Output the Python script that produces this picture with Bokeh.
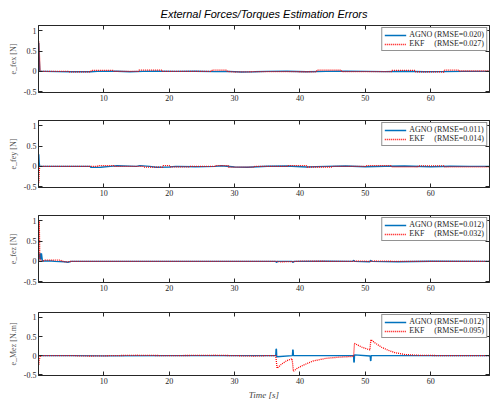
from bokeh.plotting import figure
from bokeh.layouts import column
from bokeh.models import FixedTicker, LinearAxis, Range1d, Legend, LegendItem
from bokeh.embed import file_html
from bokeh.resources import INLINE

# ---------------- data ----------------
title_text = "External Forces/Torques Estimation Errors"
x_ticks = [10, 20, 30, 40, 50, 60]
y_ticks = [-0.5, 0, 0.5, 1]
y_tick_labels = {-0.5: "-0.5", 0: "0", 0.5: "0.5", 1: "1"}

ylabels = ["e_fex [N]", "e_fey [N]", "e_fez [N]", "e_Mez [N.m]"]
rmse_agno = ["0.020", "0.011", "0.012", "0.012"]
rmse_ekf = ["0.027", "0.014", "0.032", "0.095"]

# panel 1 : force x
t1_agno = [0, 0.04, 0.12, 0.2, 1, 3, 5, 8, 9, 12, 14, 16, 18, 21, 24, 27, 29, 31, 33, 35, 38, 41, 44, 47, 50, 53, 56, 59, 62, 65, 69]
v1_agno = [0, 0.7, 0.3, 0.0, 0.0, -0.005, -0.01, -0.01, 0.0, 0.005, -0.01, 0.0, 0.005, 0.0, 0.005, -0.005, 0.0, -0.015, -0.01, 0.0, 0.005, -0.01, 0.0, 0.005, 0.0, -0.005, 0.005, -0.01, -0.005, 0.0, 0.0]
t1_ekf = [0, 0.04, 0.12, 0.25, 4.5, 4.6, 8.0, 8.1, 11.5, 11.6, 15.3, 15.4, 18.8, 18.9, 26.5, 26.6, 28.8, 28.9, 30, 34, 42.5, 42.6, 46.3, 46.4, 54, 54.1, 57.6, 57.7, 62, 62.1, 64.2, 64.3, 69]
v1_ekf = [0, 0.75, 0.5, 0.0, 0.0, -0.01, -0.01, 0.025, 0.025, 0.0, 0.0, 0.03, 0.03, 0.0, 0.0, 0.03, 0.03, 0.0, -0.015, -0.005, -0.01, 0.03, 0.03, -0.005, -0.005, 0.025, 0.025, -0.01, -0.015, 0.03, 0.03, 0.01, 0.01]

# panel 2 : force y
t2_agno = [0, 0.04, 0.1, 0.18, 2, 5, 7.9, 8.0, 9.5, 11, 12, 15, 15.5, 17, 18, 20, 21, 24, 27, 28, 30, 32, 35, 38, 41, 44, 47, 50, 53, 56, 60, 63, 66, 69]
v2_agno = [0, 0.3, 0.1, 0.0, 0.0, 0.0, 0.0, -0.025, -0.02, 0.0, 0.015, 0.0, 0.02, 0.0, -0.02, -0.015, 0.0, -0.01, 0.0, 0.015, -0.015, -0.02, 0.005, 0.01, -0.015, 0.0, 0.01, -0.01, 0.005, 0.01, -0.01, 0.005, 0.0, 0.0]
t2_ekf = [0, 0.04, 0.1, 0.18, 9.0, 9.1, 11.5, 11.6, 16, 16.1, 19, 19.1, 20, 20.1, 23, 23.1, 27, 27.1, 29, 29.1, 33, 33.1, 38, 38.1, 41, 41.1, 45, 45.1, 50, 50.1, 54, 54.1, 58, 58.1, 62, 62.1, 69]
v2_ekf = [0, -0.4, -0.15, 0.0, 0.0, 0.02, 0.02, 0.0, 0.0, -0.02, -0.02, 0.02, 0.02, -0.01, -0.01, 0.0, 0.0, 0.02, 0.02, -0.02, -0.02, 0.0, 0.0, 0.02, 0.02, -0.015, -0.015, 0.0, 0.0, 0.02, 0.02, -0.01, -0.01, 0.015, 0.015, -0.01, -0.01]

# panel 3 : force z
t3_agno = [0, 0.1, 0.25, 0.35, 0.45, 0.6, 2.0, 2.5, 4, 4.5, 5, 10, 20, 30, 36.3, 36.4, 36.6, 38.8, 38.9, 39.1, 44, 48.1, 48.2, 48.4, 50.7, 50.8, 51.0, 55, 60, 69]
v3_agno = [0, 0.1, 0.2, 0.05, 0.2, 0.01, 0.01, 0.0, -0.01, -0.02, 0.0, 0.0, 0.0, 0.0, 0.0, -0.025, 0.0, 0.0, -0.025, 0.0, 0.005, 0.0, 0.025, 0.0, -0.01, 0.025, 0.0, -0.01, 0.005, 0.0]
t3_ekf = [0, 0.04, 0.12, 0.2, 0.4, 1.0, 3.4, 3.5, 4.2, 5, 20, 36.5, 37, 39, 40, 48.3, 48.8, 50.8, 51.3, 55, 69]
v3_ekf = [0, 1.0, 1.0, 0.05, 0.0, 0.03, 0.03, 0.01, -0.015, 0.0, 0.0, 0.0, -0.01, -0.005, 0.005, 0.0, 0.01, 0.0, 0.01, 0.0, 0.0]

# panel 4 : moment z
t4_agno = [0, 5, 10, 20, 30, 36.3, 36.35, 36.4, 36.45, 38.85, 38.9, 38.95, 39.0, 45, 48.2, 48.25, 48.3, 48.35, 50.75, 50.8, 50.85, 50.9, 55, 69]
v4_agno = [0, 0.0, -0.005, 0.0, 0.0, 0.0, 0.17, 0.17, -0.03, 0.0, 0.15, 0.15, 0.0, 0.0, 0.0, -0.17, -0.17, 0.02, -0.01, -0.13, -0.13, 0.0, 0.0, 0.0]
t4_ekf = [0, 0.04, 0.12, 0.3, 5, 8, 15, 20, 27, 30, 33, 35, 36.3, 36.5, 37.2, 38.0, 38.8, 39.0, 39.5, 40.5, 42, 44, 46, 48.2, 48.35, 48.8, 49.5, 50.7, 50.85, 51.5, 52.5, 53.5, 54.5, 56, 58, 62, 69]
v4_ekf = [0, -0.25, -0.1, 0.0, 0.0, -0.01, 0.01, 0.0, 0.01, 0.0, -0.01, 0.0, 0.0, -0.33, -0.22, -0.13, -0.08, -0.41, -0.34, -0.25, -0.14, -0.07, -0.04, -0.02, 0.32, 0.28, 0.22, 0.15, 0.42, 0.33, 0.22, 0.14, 0.08, 0.03, 0.01, 0.0, 0.0]

series = [
    (t1_agno, v1_agno, t1_ekf, v1_ekf),
    (t2_agno, v2_agno, t2_ekf, v2_ekf),
    (t3_agno, v3_agno, t3_ekf, v3_ekf),
    (t4_agno, v4_agno, t4_ekf, v4_ekf),
]

# ---------------- styling ----------------
BLUE = "#0072BD"
RED = "#FF0000"
SERIF = "Liberation Serif"
DARK = "#262626"
FRAME_H = 67
borders = [(25, 14), (14, 14), (14, 14), (16, 23)]
NB = "\u00a0"

figs = []
for i, (ta, va, te, ve) in enumerate(series):
    top, bottom = borders[i]
    p = figure(width=490, height=top + FRAME_H + bottom,
               output_backend="svg", toolbar_location=None,
               x_range=Range1d(0, 69), y_range=Range1d(-0.52, 1.13),
               min_border_left=38, min_border_right=1,
               min_border_top=top, min_border_bottom=bottom,
               x_axis_type=None, y_axis_type=None)
    if i == 0:
        p.title.text = title_text
        p.title.align = "center"
        p.title.text_font = "Liberation Sans"
        p.title.text_font_style = "italic"
        p.title.text_font_size = "11px"
        p.title.text_color = "#000000"
        p.title.text_line_height = 0.7
        p.title.standoff = 11

    xb = LinearAxis(ticker=FixedTicker(ticks=x_ticks))
    yl = LinearAxis(ticker=FixedTicker(ticks=y_ticks))
    xa = LinearAxis(ticker=FixedTicker(ticks=x_ticks))
    yr = LinearAxis(ticker=FixedTicker(ticks=y_ticks))
    for ax in (xb, yl):
        ax.major_tick_in = 4
        ax.major_tick_out = 0
        ax.minor_tick_line_color = None
        ax.axis_line_color = DARK
        ax.major_tick_line_color = DARK
        ax.major_label_text_font = SERIF
        ax.major_label_text_color = DARK
        ax.major_label_text_font_size = "8px"
        ax.major_label_standoff = 2
    for ax in (xa, yr):
        ax.major_tick_in = 4
        ax.major_tick_out = 0
        ax.minor_tick_line_color = None
        ax.axis_line_color = DARK
        ax.major_tick_line_color = DARK
        ax.major_label_text_font_size = "0px"
        ax.major_label_standoff = 0
        ax.major_label_text_color = None
    yl.major_label_overrides = y_tick_labels
    yl.axis_label = ylabels[i]
    yl.axis_label_text_font = SERIF
    yl.axis_label_text_font_style = "normal"
    yl.axis_label_text_font_size = "8px"
    yl.axis_label_text_color = "#555555"
    yl.axis_label_standoff = 3
    if i == 3:
        xb.axis_label = "Time [s]"
        xb.axis_label_text_font = SERIF
        xb.axis_label_text_font_style = "italic"
        xb.axis_label_text_font_size = "9px"
        xb.axis_label_text_color = "#444444"
        xb.axis_label_standoff = 3
    p.add_layout(xb, "below")
    p.add_layout(yl, "left")
    p.add_layout(xa, "above")
    p.add_layout(yr, "right")

    p.xgrid.ticker = FixedTicker(ticks=x_ticks)
    p.ygrid.ticker = FixedTicker(ticks=y_ticks)
    p.xgrid.grid_line_color = "#e3e3e3"
    p.ygrid.grid_line_color = "#e3e3e3"

    p.outline_line_color = DARK
    p.outline_line_width = 1
    p.background_fill_color = "white"
    p.border_fill_color = "white"

    r_a = p.line(ta, va, line_color=BLUE, line_width=1.4)
    r_e = p.line(te, ve, line_color=RED, line_width=1.3, line_dash="1 1")

    legend = Legend(items=[
        LegendItem(label="AGNO (RMSE=" + rmse_agno[i] + ")", renderers=[r_a]),
        LegendItem(label="EKF" + NB * 5 + "(RMSE=" + rmse_ekf[i] + ")", renderers=[r_e]),
    ], location="top_right")
    legend.label_text_font = SERIF
    legend.label_text_font_size = "8px"
    legend.label_text_color = DARK
    legend.label_height = 8
    legend.glyph_height = 8
    legend.glyph_width = 22
    legend.label_standoff = 3
    legend.spacing = 0
    legend.padding = 2
    legend.margin = 2
    legend.border_line_color = DARK
    legend.border_line_width = 1
    legend.background_fill_alpha = 1
    p.add_layout(legend, "center")
    figs.append(p)

layout = column(*figs, spacing=0)
open("out.html", "w").write(file_html(layout, INLINE))
